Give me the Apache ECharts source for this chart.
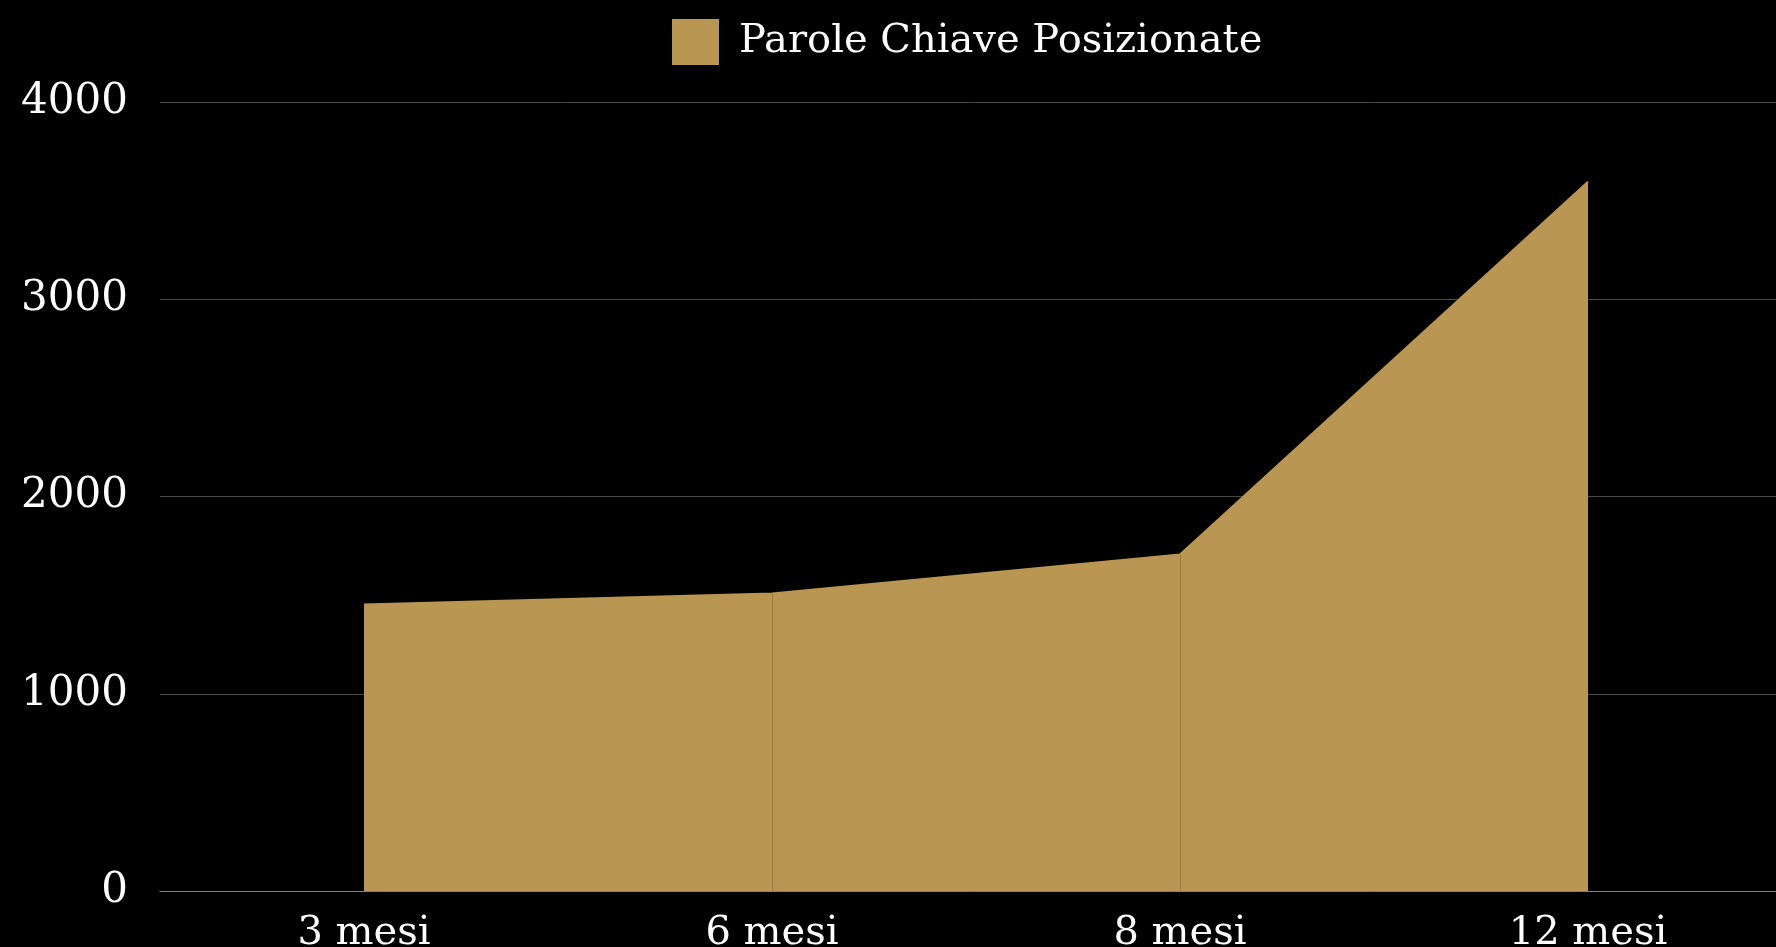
<!DOCTYPE html>
<html>
<head>
<meta charset="utf-8">
<title>Parole Chiave Posizionate</title>
<script src="https://cdn.jsdelivr.net/npm/echarts@6/dist/echarts.min.js"></script>
<style>
    html, body { margin: 0; padding: 0; background: #000; }
    #chart { width: 1776px; height: 947px; }
</style>
</head>
<body>
<div id="chart"></div>
<script type="text/javascript">
    // dati
    var categories = ['3 mesi', '6 mesi', '8 mesi', '12 mesi'];
    var keywords = [1452, 1508, 1706, 3596];
    var seriesName = 'Parole Chiave Posizionate';

    var gold = '#b99651';
    var font = '"DejaVu Serif", "Liberation Serif", serif';

    // separatori verticali dentro l'area (solo sui punti interni)
    var dividers = [];
    for (var i = 1; i < categories.length - 1; i++) {
        dividers.push([
            { coord: [categories[i], 0] },
            { coord: [categories[i], keywords[i]] }
        ]);
    }

    var myChart = echarts.init(document.getElementById('chart'), null, { renderer: 'canvas' });

    myChart.setOption({
        backgroundColor: '#000',
        animation: false,
        legend: {
            data: [seriesName],
            left: 667,
            top: 14,
            icon: 'rect',
            itemWidth: 47,
            itemHeight: 46,
            textStyle: {
                color: '#fff',
                fontFamily: font,
                fontSize: 40,
                padding: [0, 0, 0, 15]
            }
        },
        grid: {
            left: 160,
            width: 1632,
            top: 102,
            bottom: 56,
            containLabel: false,
            outerBoundsMode: 'none'
        },
        xAxis: {
            type: 'category',
            data: categories,
            boundaryGap: true,
            axisLine: { lineStyle: { color: '#808080', width: 1 } },
            axisTick: { show: false },
            axisLabel: { color: '#fff', fontFamily: font, fontSize: 40, margin: 23 }
        },
        yAxis: {
            type: 'value',
            min: 0,
            max: 4000,
            interval: 1000,
            axisLine: { show: false },
            axisTick: { show: false },
            axisLabel: {
                color: '#fff',
                fontFamily: font,
                fontSize: 42,
                margin: 32,
                formatter: function (v) { return String(v); }
            },
            splitLine: { lineStyle: { color: '#4a4a4a', width: 1 } }
        },
        series: [{
            name: seriesName,
            type: 'line',
            data: keywords,
            symbol: 'none',
            itemStyle: { color: gold },
            lineStyle: { color: gold, width: 2 },
            areaStyle: { color: gold, opacity: 1 },
            markLine: {
                silent: true,
                symbol: 'none',
                label: { show: false },
                lineStyle: { color: '#9a7a3e', width: 1, type: 'solid' },
                data: dividers
            }
        }]
    });
</script>
</body>
</html>
